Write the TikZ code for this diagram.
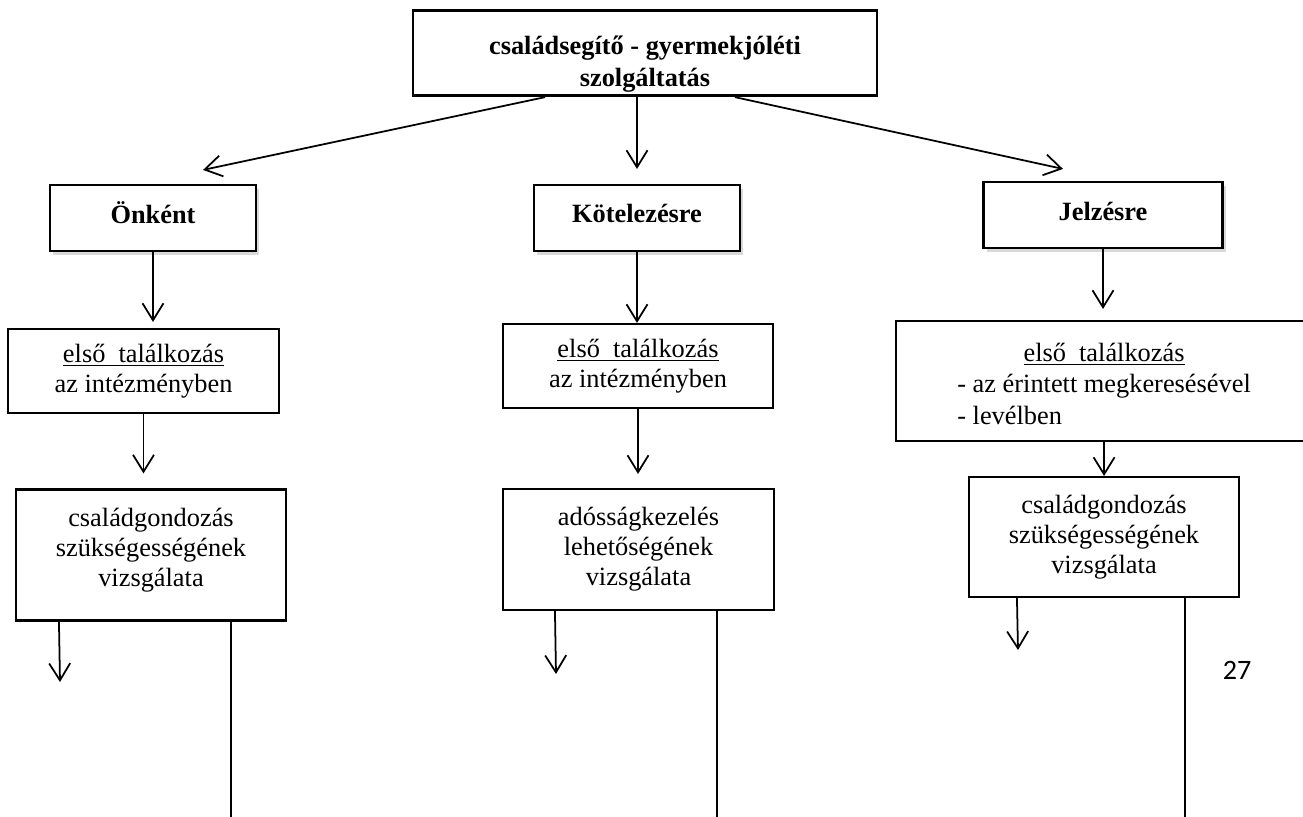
\documentclass[tikz,border=0pt]{standalone}
\usepackage{fontspec}
\setmainfont{Liberation Serif}
\newfontfamily\pagenumfont{Carlito}
\usepackage{tikz}
\usetikzlibrary{arrows.meta,positioning,calc,shadows}

\begin{document}
\begin{tikzpicture}[
    arr/.style={-{Straight Barb[length=0.34cm,width=0.42cm]}, line width=1pt},
    stem/.style={line width=0.9pt},
    box/.style={draw, line width=1.2pt, align=center, inner sep=2pt,
        font=\fontsize{15}{17}\selectfont},
    headbox/.style={box, fill=white, font=\fontsize{15}{17}\selectfont\bfseries,
        drop shadow={shadow xshift=0.06cm, shadow yshift=-0.07cm, opacity=0.3}},
  ]
    \useasboundingbox (0,0) rectangle (26.06,-16.34);

    % --- Top box ---
    \node[box, line width=1.6pt, minimum width=9.28cm, minimum height=1.64cm,
          font=\fontsize{15}{18}\selectfont\bfseries]
        (top) at (12.90,-1.06) {\rule{0pt}{0.82cm}családsegítő - gyermekjóléti\\szolgáltatás};

    % --- Second row ---
    \node[headbox, minimum width=4.12cm, minimum height=1.32cm, text depth=0.2cm] (onkent) at (3.06,-4.36) {Önként};
    \node[headbox, minimum width=4.12cm, minimum height=1.32cm, text depth=0.2cm] (kotel) at (12.74,-4.36) {Kötelezésre};
    \node[headbox, minimum width=4.78cm, minimum height=1.32cm, text depth=0.15cm] (jelz) at (22.06,-4.30) {Jelzésre};

    \draw[arr] ([xshift=-2.0cm]top.south) -- ([shift={(1.0,0.28)}]onkent.north);
    \draw[arr] (top.south -| kotel.north) -- ([yshift=0.3cm]kotel.north);
    \draw[arr] ([xshift=1.8cm]top.south) -- ([shift={(-0.8,0.24)}]jelz.north);

    % --- First meeting ---
    \node[box, minimum width=5.42cm, minimum height=1.68cm] (elso1) at (2.87,-7.42)
        {\underline{első\ \ találkozás}\\az intézményben};
    \node[box, minimum width=5.40cm, minimum height=1.68cm] (elso2) at (12.76,-7.32)
        {\underline{első\ \ találkozás}\\az intézményben};
    \node[box, anchor=west, minimum width=8.32cm, minimum height=2.40cm] (elso3) at (17.90,-7.62)
        {\renewcommand{\arraystretch}{1.05}%
         \begin{tabular}{@{}l@{}}
           \multicolumn{1}{@{}c@{}}{\rule{0pt}{0.66cm}\underline{első\ \ találkozás}}\\
           - az érintett megkeresésével\\
           - levélben
         \end{tabular}};

    \draw[arr] (onkent.south) -- ([yshift=0.12cm]onkent.south |- elso1.north);
    \draw[arr] (kotel.south) -- (kotel.south |- elso2.north);
    \draw[arr] (jelz.south) -- ([yshift=0.22cm]jelz.south |- elso3.north);

    % --- Examination ---
    \node[box, minimum width=5.40cm, minimum height=2.62cm, text depth=0.3cm] (vizs1) at (3.02,-11.10)
        {családgondozás\\szükségességének\\vizsgálata};
    \node[box, minimum width=5.42cm, minimum height=2.42cm] (vizs2) at (12.77,-10.99)
        {adósságkezelés\\lehetőségének\\vizsgálata};
    \node[box, minimum width=5.40cm, minimum height=2.40cm] (vizs3) at (22.08,-10.74)
        {családgondozás\\szükségességének\\vizsgálata};

    \draw[arr] (elso1.south) -- ([yshift=0.3cm]elso1.south |- vizs1.north);
    \draw[arr] (elso2.south) -- ([yshift=0.28cm]elso2.south |- vizs2.north);
    \draw[arr] (elso3.south) -- (elso3.south |- vizs3.north);

    % --- Continuations below ---
    \coordinate (downL) at (1.20,-13.64);
    \coordinate (downM) at (11.12,-13.48);
    \coordinate (downR) at (20.36,-13.00);
    \coordinate (bottom) at (0,-16.40);

    \draw[arr] ([xshift=0.88cm]vizs1.south west) -- (downL);
    \draw[stem] ([xshift=4.32cm]vizs1.south west) coordinate (stemL) -- (stemL |- bottom);
    \draw[arr] ([xshift=1.06cm]vizs2.south west) -- (downM);
    \draw[stem] ([xshift=4.30cm]vizs2.south west) coordinate (stemM) -- (stemM |- bottom);
    \draw[arr] ([xshift=0.98cm]vizs3.south west) -- (downR);
    \draw[stem] ([xshift=4.34cm]vizs3.south west) coordinate (stemR) -- (stemR |- bottom);

    % page number
    \node[font=\pagenumfont\fontsize{16}{18}\selectfont] (pagenum) at (24.74,-13.40) {27};
\end{tikzpicture}
\end{document}
